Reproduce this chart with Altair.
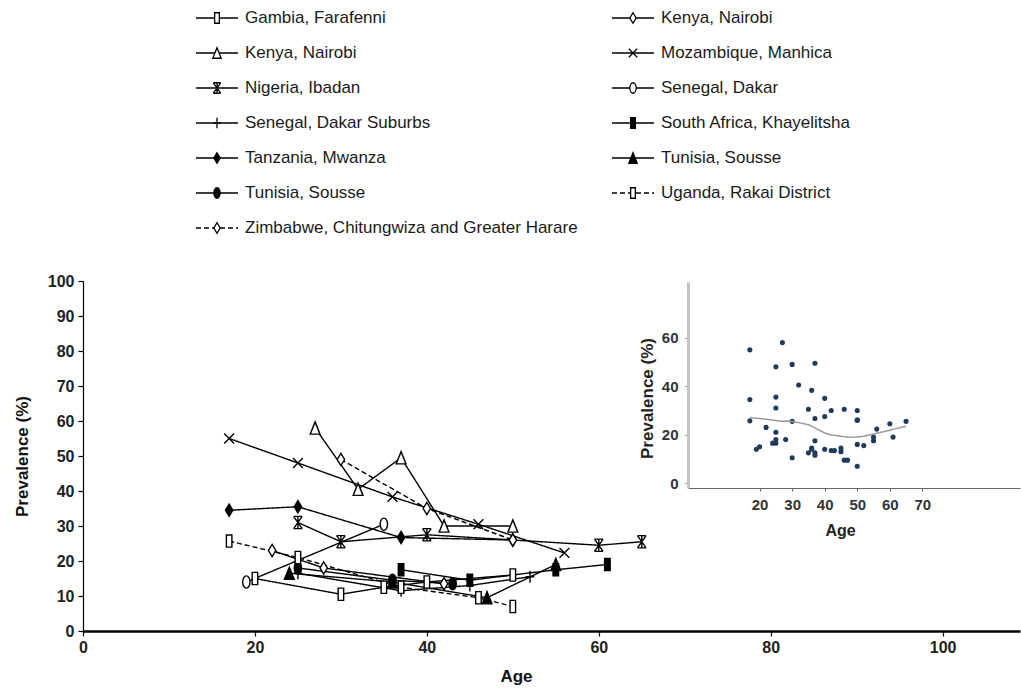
import altair as alt
import pandas as pd

# ---------------- data ----------------
series_ids = ["gambia", "kenya_tri", "nigeria", "sen_sub", "tanzania", "tunisia_circ", "zimbabwe",
              "kenya_dia", "mozambique", "senegal", "safrica", "tunisia_tri", "uganda"]
series_labels = ["Gambia, Farafenni", "Kenya, Nairobi", "Nigeria, Ibadan", "Senegal, Dakar Suburbs",
                 "Tanzania, Mwanza", "Tunisia, Sousse", "Zimbabwe, Chitungwiza and Greater Harare",
                 "Kenya, Nairobi", "Mozambique, Manhica", "Senegal, Dakar", "South Africa, Khayelitsha",
                 "Tunisia, Sousse", "Uganda, Rakai District"]
legend_col = [0, 0, 0, 0, 0, 0, 0, 1, 1, 1, 1, 1, 1]
legend_row = [0, 1, 2, 3, 4, 5, 6, 0, 1, 2, 3, 4, 5]

gambia_age = [20, 30, 35, 40, 50]
gambia_prev = [15, 10.5, 12.5, 14, 16]
kenya_tri_age = [27, 32, 37, 42, 50]
kenya_tri_prev = [58, 40.5, 49.5, 30, 30]
nigeria_age = [25, 30, 40, 60, 65]
nigeria_prev = [31, 25.5, 27.5, 24.5, 25.5]
sen_sub_age = [25, 37, 45, 52]
sen_sub_prev = [16.5, 11.5, 13, 15.5]
tanzania_age = [17, 25, 37, 50]
tanzania_prev = [34.5, 35.5, 26.7, 26]
tunisia_circ_age = [25, 36, 43]
tunisia_circ_prev = [18, 14.5, 13.5]
zimbabwe_age = [30, 40, 50]
zimbabwe_prev = [49, 35, 26]
kenya_dia_age = [22, 28, 42]
kenya_dia_prev = [23, 18, 13.5]
mozambique_age = [17, 25, 36, 46, 56]
mozambique_prev = [55, 48, 38.3, 30.5, 22.3]
senegal_age = [19, 35]
senegal_prev = [14, 30.5]
safrica_age = [37, 45, 55, 61]
safrica_prev = [17.5, 14.5, 17.5, 19]
tunisia_tri_age = [24, 36, 47, 55]
tunisia_tri_prev = [16.5, 14, 9.5, 19]
uganda_age = [17, 25, 37, 46, 50]
uganda_prev = [25.7, 21, 12.5, 9.5, 7]

x_ticks_main = [0, 20, 40, 60, 80, 100]
y_ticks_main = [0, 10, 20, 30, 40, 50, 60, 70, 80, 90, 100]
x_ticks_inset = [20, 30, 40, 50, 60, 70]
y_ticks_inset = [0, 20, 40, 60]

series_data = {
    "gambia": (gambia_age, gambia_prev),
    "kenya_tri": (kenya_tri_age, kenya_tri_prev),
    "nigeria": (nigeria_age, nigeria_prev),
    "sen_sub": (sen_sub_age, sen_sub_prev),
    "tanzania": (tanzania_age, tanzania_prev),
    "tunisia_circ": (tunisia_circ_age, tunisia_circ_prev),
    "zimbabwe": (zimbabwe_age, zimbabwe_prev),
    "kenya_dia": (kenya_dia_age, kenya_dia_prev),
    "mozambique": (mozambique_age, mozambique_prev),
    "senegal": (senegal_age, senegal_prev),
    "safrica": (safrica_age, safrica_prev),
    "tunisia_tri": (tunisia_tri_age, tunisia_tri_prev),
    "uganda": (uganda_age, uganda_prev),
}

rows = []
for sid, (ages, prevs) in series_data.items():
    for a, p in zip(ages, prevs):
        rows.append({"id": sid, "age": a, "prev": p})
main_df = pd.DataFrame(rows)

legend_df = pd.DataFrame({"id": series_ids, "label": series_labels,
                          "col": legend_col, "row": legend_row})

# ---------------- styles ----------------
RECT = "M-0.45,-1L0.45,-1L0.45,1L-0.45,1Z"
TRI = "M0,-1L0.8,1L-0.8,1Z"
AST = "M-0.7,-1L0.7,1M-0.7,1L0.7,-1M-0.7,-1L0.7,-1M-0.7,1L0.7,1M0,-1L0,1"
PLUS = "M-0.7,0L0.7,0M0,-1L0,1"
DIA = "M0,-1L0.6,0L0,1L-0.6,0Z"
XS = "M-0.8,-0.8L0.8,0.8M-0.8,0.8L0.8,-0.8"
ELL = "M0,-1A0.6,1,0,1,1,0,1A0.6,1,0,1,1,0,-1Z"

shape_map = {"gambia": RECT, "kenya_tri": TRI, "nigeria": AST, "sen_sub": PLUS, "tanzania": DIA,
             "tunisia_circ": ELL, "zimbabwe": DIA, "kenya_dia": DIA, "mozambique": XS,
             "senegal": ELL, "safrica": RECT, "tunisia_tri": TRI, "uganda": RECT}
filled_ids = {"tanzania", "tunisia_circ", "safrica", "tunisia_tri"}
dashed_ids = {"zimbabwe", "uganda"}

shape_scale = alt.Scale(domain=series_ids, range=[shape_map[s] for s in series_ids])
fill_scale = alt.Scale(domain=series_ids, range=["black" if s in filled_ids else "white" for s in series_ids])
dash_scale = alt.Scale(domain=series_ids, range=[[5, 3] if s in dashed_ids else [1, 0] for s in series_ids])

FONT = "Liberation Sans"
W, H = 1021, 691

# ---------------- main plot ----------------
mx = alt.X("age:Q", scale=alt.Scale(domain=[0, 109], range=[83, 1020], nice=False, zero=False),
           axis=alt.Axis(orient="bottom", offset=-(H - 631), values=x_ticks_main, grid=False,
                         domainColor="black", domainWidth=2.5, tickColor="black", tickSize=5,
                         tickWidth=1.2, labelFont=FONT, labelFontWeight="bold", labelFontSize=16,
                         labelColor="#222", labelPadding=3, labelFlush=False,
                         title="Age", titleFont=FONT, titleFontSize=17, titleFontWeight="bold",
                         titleColor="#111", titleX=516, titleY=37, titleAnchor="start",
                         titleAlign="center", titleBaseline="top"))
my = alt.Y("prev:Q", scale=alt.Scale(domain=[0, 100], range=[631, 281], nice=False, zero=False),
           axis=alt.Axis(orient="left", offset=-83, values=y_ticks_main, grid=False,
                         domainColor="black", domainWidth=1.2, tickColor="black", tickSize=5,
                         tickWidth=1.2, labelFont=FONT, labelFontWeight="bold", labelFontSize=16,
                         labelColor="#222", labelPadding=4, labelFlush=False,
                         title="Prevalence (%)", titleFont=FONT, titleFontSize=17,
                         titleFontWeight="bold", titleColor="#111", titleX=-61, titleY=456,
                         titleAngle=270, titleAlign="center", titleBaseline="middle"))

lines = alt.Chart(main_df).mark_line(color="black", strokeWidth=1.4).encode(
    x=mx, y=my, detail="id:N", order="age:Q",
    strokeDash=alt.StrokeDash("id:N", scale=dash_scale, legend=None))
points = alt.Chart(main_df).mark_point(stroke="black", strokeWidth=1.4, opacity=1,
                                       fillOpacity=1, size=150, filled=True).encode(
    x="age:Q", y="prev:Q",
    shape=alt.Shape("id:N", scale=shape_scale, legend=None),
    fill=alt.Fill("id:N", scale=fill_scale, legend=None))
main = alt.layer(lines, points)

# ---------------- inset ----------------
ix = alt.X("age:Q", scale=alt.Scale(domain=[-2, 100], range=[688, 1020], nice=False, zero=False),
           axis=alt.Axis(orient="bottom", offset=-(H - 488), values=x_ticks_inset, grid=False,
                         domainColor="#666", domainWidth=1, tickColor="#666", tickSize=3,
                         labelFont=FONT, labelFontWeight="bold", labelFontSize=15,
                         labelColor="#333", labelPadding=6, labelFlush=False,
                         title="Age", titleFont=FONT, titleFontSize=16, titleFontWeight="bold",
                         titleColor="#222", titleX=840, titleY=42, titleAlign="center",
                         titleBaseline="middle"))
iy = alt.Y("prev:Q", scale=alt.Scale(domain=[-2, 83], range=[488, 282], nice=False, zero=False),
           axis=alt.Axis(orient="left", offset=-688, values=y_ticks_inset, grid=False,
                         domainColor="#c4c4c4", domainWidth=3, tickColor="#666", tickSize=3,
                         labelFont=FONT, labelFontWeight="bold", labelFontSize=15,
                         labelColor="#333", labelPadding=7, labelFlush=False,
                         title="Prevalence (%)", titleFont=FONT, titleFontSize=17,
                         titleFontWeight="bold", titleColor="#222", titleX=-41, titleY=398,
                         titleAngle=270, titleAlign="center", titleBaseline="middle"))

inset_pts = alt.Chart(main_df).mark_circle(size=26, color="#1f3b5a", opacity=1).encode(x=ix, y=iy)
inset_loess = alt.Chart(main_df).transform_loess("age", "prev", bandwidth=0.6).mark_line(
    color="#9a9a9a", strokeWidth=1.5).encode(x="age:Q", y="prev:Q")
inset = alt.layer(inset_pts, inset_loess)

# ---------------- legend ----------------
lx = alt.X("col:Q", scale=alt.Scale(domain=[0, 1], range=[217, 633], nice=False, zero=False), axis=None)
ly = alt.Y("row:Q", scale=alt.Scale(domain=[0, 6], range=[18, 228], nice=False, zero=False), axis=None)
leg_rule = alt.Chart(legend_df).mark_rule(color="black", strokeWidth=1.4, xOffset=-21, x2Offset=21).encode(
    x=lx, x2="col:Q", y=ly,
    strokeDash=alt.StrokeDash("id:N", scale=dash_scale, legend=None))
leg_pts = alt.Chart(legend_df).mark_point(stroke="black", strokeWidth=1.3, opacity=1, fillOpacity=1,
                                          size=110, filled=True).encode(
    x="col:Q", y="row:Q",
    shape=alt.Shape("id:N", scale=shape_scale, legend=None),
    fill=alt.Fill("id:N", scale=fill_scale, legend=None))
leg_text = alt.Chart(legend_df).mark_text(align="left", baseline="middle", dx=28, font=FONT,
                                          fontSize=17, color="#1a1a1a").encode(
    x="col:Q", y="row:Q", text="label:N")
legend = alt.layer(leg_rule, leg_pts, leg_text)

chart = alt.layer(main, inset, legend).resolve_scale(
    x="independent", y="independent").resolve_axis(x="independent", y="independent").properties(
    width=W, height=H, padding=0, autosize=alt.AutoSizeParams(type="none"), background="white"
).configure_view(strokeWidth=0)

chart.save("out.html", embed_options={"renderer": "svg", "actions": False})
